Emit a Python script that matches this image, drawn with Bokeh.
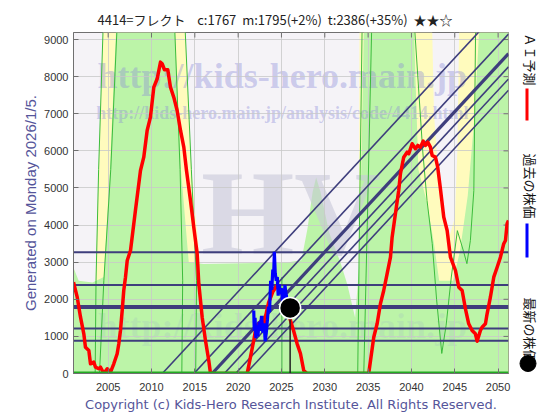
import math
from bokeh.plotting import figure
from bokeh.layouts import row
from bokeh.models import Range1d, FixedTicker, Title
from bokeh.core.properties import value
from bokeh.embed import file_html
from bokeh.resources import INLINE

# ---------------- data ----------------
SP = "\u00a0"
TITLE = ("4414=フレクト" + SP * 4 + "c:1767" + SP * 2 + "m:1795(+2%)" + SP * 2 +
         "t:2386(+35%)" + SP * 2 + "★★☆")
GENERATED = "Generated on Monday 2026/1/5."
COPYRIGHT = "Copyright (c) Kids-Hero Research Institute. All Rights Reserved."
WATERMARK_1 = "http://kids-hero.main.jp"
WATERMARK_2 = "http://kids-hero.main.jp/analysis/code/4414.html"
WATERMARK_BIG = "HV"
legend_labels = ["ＡＩ予測", "過去の株価", "最新の株価"]

x_ticks = [2005, 2010, 2015, 2020, 2025, 2030, 2035, 2040, 2045, 2050]
y_ticks = [0, 1000, 2000, 3000, 4000, 5000, 6000, 7000, 8000, 9000]
x_start, x_end = 2001.0, 2051.2
y_start, y_end = 0, 9190

ai_years = [2001.0, 2001.43, 2001.81, 2002.19, 2002.38, 2002.77, 2002.96, 2003.34, 2003.54,
            2003.92, 2004.12, 2004.5, 2004.89, 2005.27, 2005.65, 2006.04, 2006.23, 2006.42,
            2006.62, 2006.8, 2007.0, 2007.2, 2007.58, 2008.15, 2008.73, 2009.11, 2009.5,
            2009.88, 2010.27, 2010.66, 2011.04, 2011.23, 2011.5, 2011.88, 2012.19, 2012.57,
            2012.96, 2013.35, 2013.73, 2014.04, 2014.5, 2014.88, 2015.27, 2015.46, 2015.85,
            2016.23, 2016.61, 2016.81, 2021.04, 2021.42, 2021.8, 2022.0, 2022.38, 2022.77,
            2022.96, 2023.15, 2023.5, 2024.0, 2024.5, 2025.08, 2025.5, 2026.04, 2026.4,
            2026.81, 2027.19, 2027.57, 2027.96, 2035.07, 2035.65, 2036.04, 2036.42, 2036.8,
            2037.19, 2037.58, 2037.77, 2038.15, 2038.53, 2038.73, 2039.11, 2039.5, 2039.69,
            2040.08, 2040.46, 2040.73, 2041.04, 2041.35, 2041.61, 2041.88, 2042.19, 2042.39,
            2042.77, 2043.03, 2043.34, 2043.73, 2044.12, 2044.5, 2045.08, 2045.46, 2045.85,
            2046.23, 2046.61, 2047.0, 2047.38, 2047.58, 2047.96, 2048.15, 2048.54, 2048.73,
            2049.11, 2049.5, 2049.89, 2050.27, 2050.65, 2050.85, 2051.04, 2051.2]
ai_values = [2460, 2057, 1518, 1070, 709, 620, 261, 305, 170,
             127, 170, 0, 127, 35, 261, 531, 800, 1159,
             1698, 2237, 2596, 3046, 3315, 4400, 5472, 5830, 6550,
             6908, 7717, 7943, 8391, 8348, 8186, 8186, 7717, 7447,
             7089, 6550, 6100, 5472, 4663, 3943, 3235, 2418, 1518,
             889, 350, 0, 0, 439, 889, 1159, 1340, 1429,
             1248, 1518, 1900, 2200, 2372, 2148, 1950, 1429, 1150,
             800, 539, 81, 0, 0, 978, 1340, 1879, 2237,
             2687, 3135, 3674, 4305, 4933, 5383, 5830, 5965, 5922,
             6191, 6057, 6146, 6100, 6262, 6146, 6235, 6100, 5876,
             5830, 5561, 4987, 4213, 3854, 3135, 2776, 2326, 2237,
             1744, 1340, 1159, 1070, 871, 1159, 1248, 1340, 1609,
             2057, 2596, 2865, 3135, 3496, 3585, 4035, 4124]

past_years = [2021.80, 2021.86, 2021.95, 2022.05, 2022.15, 2022.28, 2022.42, 2022.55, 2022.70,
              2022.85, 2023.00, 2023.12, 2023.25, 2023.38, 2023.50, 2023.62, 2023.75, 2023.88,
              2024.00, 2024.10, 2024.18, 2024.28, 2024.40, 2024.52, 2024.62, 2024.74, 2024.86,
              2024.98, 2025.10, 2025.25, 2025.40, 2025.55, 2025.70, 2025.85, 2026.0]
past_values = [1700, 1150, 1500, 950, 1300, 1000, 1400, 1150, 1550,
               1100, 1350, 870, 1100, 1450, 1800, 1650, 2500, 2250,
               2800, 2650, 3280, 2700, 2500, 2600, 2100, 2400, 2150,
               2300, 2000, 1900, 2380, 2100, 1850, 1800, 1767]

latest_year = 2026.0
latest_price = 1767
m_value = 1795
level_values = [3270, 2386, 1795, 1210, 885]

trend_slope = 252          # per year
trend_zero_years = [2011.25, 2014.9, 2017.0, 2018.4, 2019.7, 2020.9]
thick_trend_zero_year = 2017.0

# zones (year, value)
green_top_years = [2001.0, 2001.6, 2003.2, 2004.5, 2005.2, 2005.9, 2012.7, 2013.4, 2014.3,
                   2016.0, 2025.8, 2027.3, 2028.0, 2028.6, 2029.0, 2029.5, 2030.5, 2031.8,
                   2032.6, 2033.5, 2034.0, 2034.5, 2040.3, 2040.8, 2041.8, 2042.6, 2043.2,
                   2044.8, 2045.6, 2046.5, 2047.3, 2047.8, 2051.2]
green_top_values = [2850, 2500, 2450, 2600, 5500, 9190, 9190, 5500, 3000,
                    2950, 3000, 3050, 3900, 4900, 5280, 4900, 3800, 3000,
                    2400, 1500, 3000, 9190, 9190, 5500, 4600, 3500, 2500,
                    2500, 3300, 4800, 7000, 9190, 9190]
yellow_zones = [
    ([2003.3, 2003.6, 2003.9, 2004.4, 2013.9, 2014.6, 2015.6, 2016.0],
     [0, 3000, 5500, 9190, 9190, 5500, 3000, 0]),
    ([2033.9, 2034.0, 2042.4, 2042.6, 2043.2, 2043.8, 2044.4, 2045.0, 2045.3, 2045.5, 2051.2, 2051.2],
     [0, 9190, 9190, 7000, 5000, 4000, 3700, 4200, 6000, 9190, 9190, 0]),
]
zone_edges = [
    ([2004.4, 2003.9, 2003.6, 2003.5], [9190, 5500, 2500, 0]),
    ([2006.0, 2005.3, 2004.5, 2004.0], [9190, 5500, 2500, 0]),
    ([2012.7, 2013.3, 2013.6, 2013.5], [9190, 5500, 2500, 0]),
    ([2013.9, 2014.6, 2015.2, 2015.1], [9190, 5500, 2500, 0]),
    ([2034.3, 2034.0, 2033.8], [9190, 4000, 0]),
    ([2035.4, 2034.9, 2034.5], [9190, 4000, 0]),
    ([2040.4, 2041.3, 2041.8, 2042.4, 2042.9, 2043.5, 2044.0, 2044.6, 2045.3, 2046.0,
      2046.4, 2046.8, 2047.2, 2047.4],
     [9190, 6000, 4660, 3500, 2000, 540, 1300, 2600, 3850, 3300, 2960, 3580, 4930, 9190]),
    ([2025.05, 2025.05], [2600, 0]),
]

# ---------------- styles ----------------
BG = "#f5f3f7"
GREEN = "#bcf4a8"
YELLOW = "#fffbbd"
EDGE = "#3cbc3c"
NAVY = "#3e3e7c"
FRAME = "#707070"
CJK = "Noto Sans CJK JP"
SANS = "Liberation Sans"
INFO = "#55559a"

FW, FH = 435, 341
BT, BB = 32, 43
p = figure(frame_width=FW, frame_height=FH,
           x_range=Range1d(x_start, x_end), y_range=Range1d(y_start, y_end),
           output_backend="svg", toolbar_location=None,
           min_border_left=73, min_border_right=8, min_border_top=BT, min_border_bottom=BB,
           background_fill_color=BG, border_fill_color="white",
           outline_line_color=FRAME)

p.title.text = TITLE
p.title.align = "left"
p.title.offset = 24
p.title.text_font = CJK
p.title.text_font_size = "13px"
p.title.text_font_style = "normal"
p.title.text_color = "#222222"
p.title.standoff = 7

for ax in (p.xaxis[0], p.yaxis[0]):
    ax.major_tick_in = 5
    ax.major_tick_out = 0
    ax.minor_tick_in = 0
    ax.minor_tick_out = 0
    ax.major_label_text_font = SANS
    ax.major_label_text_font_size = "11px"
    ax.major_label_text_color = "#333333"
    ax.axis_line_color = FRAME
    ax.major_tick_line_color = FRAME
    ax.major_label_standoff = 5
p.xaxis[0].major_label_standoff = 9
p.xaxis[0].ticker = FixedTicker(ticks=x_ticks)
p.yaxis[0].ticker = FixedTicker(ticks=y_ticks)

p.xgrid.ticker = FixedTicker(ticks=x_ticks)
p.ygrid.ticker = FixedTicker(ticks=y_ticks)
p.grid.grid_line_color = "#c8c8c8"
p.grid.grid_line_alpha = 0.8

p.add_layout(Title(text=GENERATED, align="center", offset=-18, text_font=SANS,
                   text_font_size="15px", text_font_style="normal", text_color=INFO,
                   standoff=6), "left")
p.add_layout(Title(text=COPYRIGHT, align="center", text_font="DejaVu Sans",
                   text_font_size="13px", text_font_style="normal", text_color=INFO,
                   standoff=3), "below")

# zones
for xs, ys in yellow_zones:
    p.patch(xs, ys, fill_color=YELLOW, line_color=None, level="image")
p.patch(green_top_years + [x_end, x_start], green_top_values + [0, 0],
        fill_color=GREEN, line_color=None, level="image")

# watermarks
xs_mid = x_start + 0.48 * (x_end - x_start)
p.text(x=[xs_mid], y=[y_start + 0.871 * (y_end - y_start)], text=[WATERMARK_1],
       text_font=value("Liberation Serif"), text_font_style="bold", text_font_size="36px",
       text_color="#8a8ad8", text_alpha=0.4, text_align="center", text_baseline="middle",
       level="underlay")
p.text(x=[xs_mid], y=[y_start + 0.765 * (y_end - y_start)], text=[WATERMARK_2],
       text_font=value("Liberation Serif"), text_font_style="bold", text_font_size="18px",
       text_color="#8a8ad8", text_alpha=0.4, text_align="center", text_baseline="middle",
       level="underlay")
p.text(x=[x_start + 0.5 * (x_end - x_start)], y=[y_start + 0.47 * (y_end - y_start)],
       text=[WATERMARK_BIG], text_font=value("Liberation Serif"), text_font_style="bold",
       text_font_size="120px", text_color="#c8c8d8", text_alpha=0.6, text_align="center",
       text_baseline="middle", level="underlay")
p.text(x=[xs_mid], y=[y_start + 0.14 * (y_end - y_start)], text=[WATERMARK_1],
       text_font=value("Liberation Serif"), text_font_style="bold", text_font_size="36px",
       text_color="#8a8ad8", text_alpha=0.12, text_align="center", text_baseline="middle",
       level="underlay")

# mirror ticks on the top and right edges
tick_len_x = 5 * (x_end - x_start) / FW
tick_len_y = 5 * (y_end - y_start) / FH
p.segment(x0=x_ticks, y0=[y_end] * len(x_ticks), x1=x_ticks,
          y1=[y_end - tick_len_y] * len(x_ticks), line_color=FRAME, line_width=1)
p.segment(x0=[x_end] * len(y_ticks), y0=y_ticks, x1=[x_end - tick_len_x] * len(y_ticks),
          y1=y_ticks, line_color=FRAME, line_width=1)

# zone edge lines
p.multi_line([e[0] for e in zone_edges], [e[1] for e in zone_edges],
             line_color=EDGE, line_width=1)

# horizontal levels
p.segment(x0=[x_start] * len(level_values), y0=level_values,
          x1=[x_end] * len(level_values), y1=level_values,
          line_color=NAVY, line_width=[4 if v == m_value else 2 for v in level_values])

# trend lines
p.segment(x0=trend_zero_years, y0=[0] * len(trend_zero_years),
          x1=[x_end] * len(trend_zero_years),
          y1=[trend_slope * (x_end - t) for t in trend_zero_years],
          line_color=NAVY,
          line_width=[3.2 if t == thick_trend_zero_year else 1.6 for t in trend_zero_years])

p.line(ai_years, ai_values, line_color="#ff0000", line_width=3.5, line_join="round")
p.segment(x0=[x_start], y0=[0], x1=[x_end], y1=[0], line_color="#22aa22", line_width=4)
p.line(past_years, past_values, line_color="#0000ff", line_width=3.2)
p.segment(x0=[latest_year], y0=[0], x1=[latest_year], y1=[latest_price],
          line_color="#222222", line_width=1.5)
p.scatter([latest_year], [latest_price], size=21, fill_color="black",
          line_color="white", line_width=1.5)

# legend panel on the right; its frame matches the main frame vertically,
# y coordinates are "pixels from the canvas bottom"
LW = 44
LH = BT + FH + BB
lg = figure(frame_width=LW, frame_height=FH, x_range=Range1d(0, LW),
            y_range=Range1d(BB, BB + FH),
            output_backend="svg", toolbar_location=None, x_axis_type=None,
            y_axis_type=None, min_border_left=0, min_border_right=0,
            min_border_top=BT, min_border_bottom=BB, outline_line_color=None,
            title_location=None,
            background_fill_color="white", border_fill_color="white")
lg.grid.visible = False
lg.text(x=[13.5, 13.5, 13.5], y=[LH - 33, LH - 153, LH - 297], text=legend_labels,
        angle=-math.pi / 2, text_align="left", text_baseline="middle",
        text_font=value(CJK), text_font_size="13px", text_color="#111111")
lg.segment(x0=[10.5], y0=[LH - 88], x1=[10.5], y1=[LH - 120], line_color="#ff0000", line_width=3)
lg.segment(x0=[10.5], y0=[LH - 223], x1=[10.5], y1=[LH - 257], line_color="#0000ff", line_width=3)
lg.scatter([11.5], [LH - 363], size=16, fill_color="black", line_color="black")

layout = row(p, lg)
open("out.html", "w").write(file_html(layout, INLINE))
